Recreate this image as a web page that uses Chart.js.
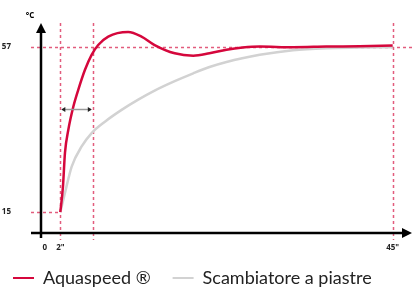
<!doctype html>
<html>
<head>
<title>Aquaspeed</title>
<script src="https://cdn.jsdelivr.net/npm/chart.js@4/dist/chart.umd.min.js"></script>
<style>
html, body { margin: 0; padding: 0; background: #fff; }
#wrap { width: 415px; height: 287px; }
</style>
</head>
<body>
<div id="wrap"><canvas id="canvas"></canvas></div>
<script>
// seconds / degrees
var redX  = [2, 2.34, 2.6, 3.03, 3.68, 4.32, 5.19, 6.05, 6.9, 8.2, 10.78, 12.5, 14.2, 16.8, 19.2, 21.3, 23.5, 25.6, 27.8, 32.1, 36.4, 40.7, 45];
var redY  = [15, 21.5, 30.1, 35.9, 41.8, 46.1, 51.2, 55.0, 57.5, 59.65, 60.8, 59.65, 57.5, 55.4, 54.8, 55.4, 56.3, 56.85, 57.1, 56.95, 57.1, 57.2, 57.35];
var grayX = [2, 2.6, 3.47, 4.76, 6.05, 7.77, 9.93, 12.08, 14.2, 16.8, 19.2, 21.3, 23.5, 27.8, 32.1, 36.4, 40.7, 45];
var grayY = [15, 19.9, 26.6, 31.7, 35.1, 38.0, 41.0, 43.6, 45.9, 48.3, 50.3, 51.9, 53.2, 55.0, 56.2, 56.7, 56.85, 56.95];

var xTicks = [0, 2, 45];
var xTickLabels = ['0', '2"', '45"'];
var yTicks = [15, 57];
var yTickLabels = ['15', '57'];

var guideX = [2, 6.2, 45];
var guideY = [57, 15];
var spanFrom = 2, spanTo = 6.2, spanAt = 41.2;

var seriesNames = ['Aquaspeed \u00AE', 'Scambiatore a piastre'];
var RED = '#d5073c', GRAY = '#d2d2d2', PINK = '#e25c7d';

function toPoints(xs, ys) {
	var pts = [];
	for (var i = 0; i < xs.length; i++) pts.push({x: xs[i], y: ys[i]});
	return pts;
}

var guides = {
	id: 'guides',
	beforeDatasetsDraw: function(chart) {
		var ctx = chart.ctx, xs = chart.scales.x, ys = chart.scales.y, a = chart.chartArea;
		ctx.save();
		ctx.strokeStyle = PINK;
		ctx.lineWidth = 1.5;
		ctx.setLineDash([3, 3]);
		guideX.forEach(function(v) {
			var px = Math.round(xs.getPixelForValue(v)) + 0.5;
			ctx.beginPath(); ctx.moveTo(px, a.top); ctx.lineTo(px, a.bottom + 7); ctx.stroke();
		});
		var x2 = xs.getPixelForValue(guideX[0]);
		guideY.forEach(function(v, i) {
			var py = Math.round(ys.getPixelForValue(v)) + 0.5;
			ctx.beginPath(); ctx.moveTo(a.left - 10, py);
			ctx.lineTo(i === 0 ? a.right : x2, py); ctx.stroke();
		});
		ctx.restore();
	},
	afterDatasetsDraw: function(chart) {
		var ctx = chart.ctx, xs = chart.scales.x, ys = chart.scales.y, a = chart.chartArea;
		ctx.save();
		// axes with arrow heads
		ctx.strokeStyle = '#000'; ctx.fillStyle = '#000';
		ctx.lineWidth = 2.5;
		ctx.beginPath(); ctx.moveTo(a.left, a.bottom + 5); ctx.lineTo(a.left, a.top + 6); ctx.stroke();
		ctx.beginPath(); ctx.moveTo(a.left - 10, a.bottom); ctx.lineTo(a.right - 6, a.bottom); ctx.stroke();
		ctx.beginPath(); ctx.moveTo(a.left, a.top); ctx.lineTo(a.left - 5, a.top + 10); ctx.lineTo(a.left + 5, a.top + 10); ctx.closePath(); ctx.fill();
		ctx.beginPath(); ctx.moveTo(a.right, a.bottom); ctx.lineTo(a.right - 10, a.bottom - 5); ctx.lineTo(a.right - 10, a.bottom + 5); ctx.closePath(); ctx.fill();
		// unit label
		ctx.font = 'bold 8px "Open Sans"';
		ctx.textAlign = 'center'; ctx.textBaseline = 'middle';
		ctx.fillText('\u00B0C', a.left - 11, a.top - 7);
		// duration arrow
		var p1 = xs.getPixelForValue(spanFrom), p2 = xs.getPixelForValue(spanTo), py = Math.round(ys.getPixelForValue(spanAt)) + 0.5;
		ctx.strokeStyle = '#9a9a9a'; ctx.lineWidth = 1.5;
		ctx.beginPath(); ctx.moveTo(p1 + 2, py); ctx.lineTo(p2 - 2, py); ctx.stroke();
		ctx.fillStyle = '#222';
		ctx.beginPath(); ctx.moveTo(p1 + 1, py); ctx.lineTo(p1 + 5, py - 2.5); ctx.lineTo(p1 + 5, py + 2.5); ctx.closePath(); ctx.fill();
		ctx.beginPath(); ctx.moveTo(p2 - 1, py); ctx.lineTo(p2 - 5, py - 2.5); ctx.lineTo(p2 - 5, py + 2.5); ctx.closePath(); ctx.fill();
		ctx.restore();
	}
};

var ctx = document.getElementById('canvas').getContext('2d');
var myChart = new Chart(ctx, {
	type: 'line',
	data: {
		datasets: [{
			label: seriesNames[0],
			data: toPoints(redX, redY),
			borderColor: RED,
			backgroundColor: RED,
			borderWidth: 2.5,
			pointRadius: 0,
			cubicInterpolationMode: 'monotone'
		}, {
			label: seriesNames[1],
			data: toPoints(grayX, grayY),
			borderColor: GRAY,
			backgroundColor: GRAY,
			borderWidth: 2.5,
			pointRadius: 0,
			cubicInterpolationMode: 'monotone'
		}]
	},
	options: {
		responsive: true,
		maintainAspectRatio: false,
		animation: false,
		layout: { padding: { top: 23, right: 3, left: 0, bottom: -10 } },
		plugins: {
			tooltip: { enabled: false },
			legend: {
				position: 'bottom',
				align: 'start',
				labels: {
					boxWidth: 21,
					boxHeight: 2,
					padding: 13,
					color: '#222',
					font: { family: 'Lato', size: 18 },
					generateLabels: function(chart) {
						var items = Chart.defaults.plugins.legend.labels.generateLabels(chart);
						items.forEach(function(it, i) {
							it.lineWidth = 0;
							// a bit more room after the first entry
							if (i === 0) it.text = it.text + '\u2002';
						});
						return items;
					}
				}
			}
		},
		scales: {
			x: {
				type: 'linear',
				min: -0.5,
				max: 47.5,
				grid: { display: false },
				border: { display: false },
				afterBuildTicks: function(s) { s.ticks = xTicks.map(function(v) { return {value: v}; }); },
				afterFit: function(s) { s.height = 23; },
				ticks: {
					autoSkip: false,
					maxRotation: 0,
					padding: 2,
					color: '#222',
					font: { family: 'Open Sans', size: 8, weight: 'bold' },
					callback: function(v) { return xTickLabels[xTicks.indexOf(v)]; }
				}
			},
			y: {
				min: 9.7,
				max: 63.1,
				grid: { display: false },
				border: { display: false },
				afterBuildTicks: function(s) { s.ticks = yTicks.map(function(v) { return {value: v}; }); },
				afterFit: function(s) { s.width = 41; s.paddingTop = 0; s.paddingBottom = 0; },
				ticks: {
					autoSkip: false,
					padding: 22,
					color: '#222',
					font: { family: 'Open Sans', size: 8, weight: 'bold' },
					callback: function(v) { return yTickLabels[yTicks.indexOf(v)]; }
				}
			}
		}
	},
	plugins: [guides]
});
</script>
</body>
</html>
